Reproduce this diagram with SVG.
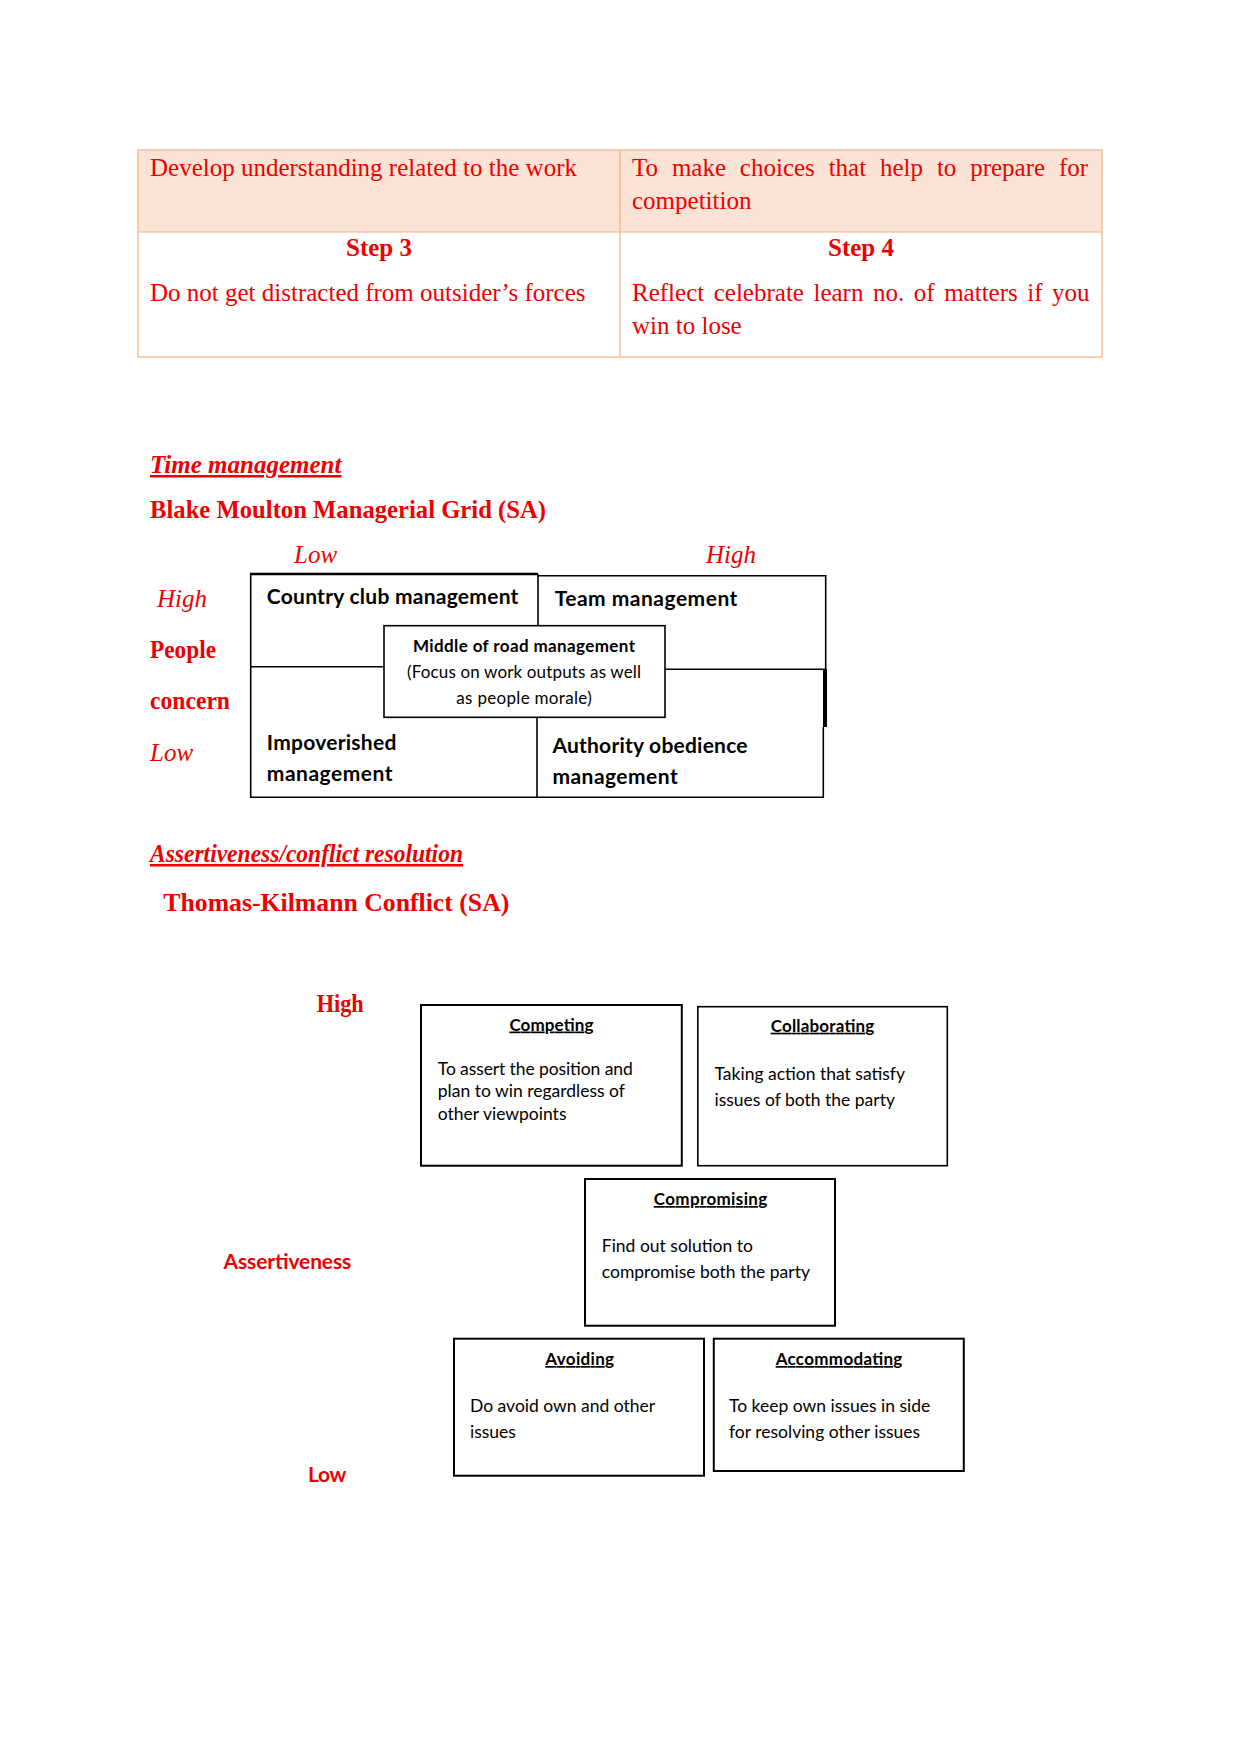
<svg xmlns="http://www.w3.org/2000/svg" width="1241" height="1754" viewBox="0 0 1241 1754">
<style>
.serif{font-family:"Liberation Serif","Times New Roman",serif;fill:#ee0000;font-size:25px}
.b{font-weight:bold}
.i{font-style:italic}
.u{text-decoration:underline}
.sans{font-family:Lato,"Liberation Sans",sans-serif;fill:#000}
.body{font-size:17.5px}
.red{fill:#ee0000}
.box{fill:#fff;stroke:#000;stroke-width:2}
.ln{stroke:#000;stroke-width:1.6;fill:none}
.tb{fill:none;stroke:#f4b183;stroke-width:1.2}
</style>
<rect width="1241" height="1754" fill="#fff"/>
<g id="table">
<rect x="138" y="150" width="964" height="82" fill="#fbe4d5"/>
<rect class="tb" x="138" y="150" width="964" height="207"/>
<line class="tb" x1="138" y1="232" x2="1102" y2="232"/>
<line class="tb" x1="620" y1="150" x2="620" y2="357"/>
<text class="serif" x="150" y="176">Develop understanding related to the work</text>
<text class="serif" x="632" y="176" word-spacing="7.6">To make choices that help to prepare for</text>
<text class="serif" x="632" y="209">competition</text>
<text class="serif b" x="379" y="256" text-anchor="middle">Step 3</text>
<text class="serif b" x="861" y="256" text-anchor="middle">Step 4</text>
<text class="serif" x="150" y="301">Do not get distracted from outsider’s forces</text>
<text class="serif" x="632" y="301" word-spacing="3.3">Reflect celebrate learn no. of matters if you</text>
<text class="serif" x="632" y="334">win to lose</text>
</g>
<text class="serif b i u" x="150" y="473">Time management</text>
<text class="serif b" x="150" y="518" textLength="396" lengthAdjust="spacingAndGlyphs">Blake Moulton Managerial Grid (SA)</text>
<g id="grid-axes">
<text class="serif i" x="294" y="563">Low</text>
<text class="serif i" x="706" y="563">High</text>
<text class="serif i" x="157" y="607">High</text>
<text class="serif b" x="150" y="658" textLength="66" lengthAdjust="spacingAndGlyphs">People</text>
<text class="serif b" x="150" y="709" textLength="80" lengthAdjust="spacingAndGlyphs">concern</text>
<text class="serif i" x="150" y="761">Low</text>
</g>
<g id="grid-lines">
<line class="ln" x1="250.7" y1="573" x2="250.7" y2="798"/>
<line x1="250" y1="574" x2="538" y2="574" stroke="#000" stroke-width="2.4"/>
<line class="ln" x1="538" y1="575.7" x2="826" y2="575.7"/>
<line class="ln" x1="538" y1="574" x2="538" y2="626"/>
<line class="ln" x1="825.7" y1="575" x2="825.7" y2="669"/>
<line class="ln" x1="250.7" y1="666.7" x2="384" y2="666.7"/>
<line class="ln" x1="665" y1="669.3" x2="826" y2="669.3"/>
<line x1="825" y1="669" x2="825" y2="727" stroke="#000" stroke-width="4"/>
<line class="ln" x1="823.3" y1="727" x2="823.3" y2="798"/>
<line class="ln" x1="537" y1="717" x2="537" y2="798"/>
<line class="ln" x1="250" y1="797.3" x2="824" y2="797.3"/>
</g>
<g id="country-club">
<text class="sans b" x="266.8" y="604" font-size="21" textLength="251.6" lengthAdjust="spacing">Country club management</text>
</g>
<g id="team">
<text class="sans b" x="554.7" y="606" font-size="21" textLength="182.7" lengthAdjust="spacing">Team management</text>
</g>
<g id="middle-of-road">
<rect x="384" y="625.7" width="281" height="91.6" fill="#fff" stroke="#000" stroke-width="1.6"/>
<text class="sans b" x="524" y="652" font-size="17" text-anchor="middle" textLength="222" lengthAdjust="spacing">Middle of road management</text>
<text class="sans" x="524" y="678" font-size="17" text-anchor="middle" textLength="234" lengthAdjust="spacing">(Focus on work outputs as well</text>
<text class="sans" x="524" y="704.3" font-size="17" text-anchor="middle" textLength="135.4" lengthAdjust="spacing">as people morale)</text>
</g>
<g id="impoverished">
<text class="sans b" x="266.8" y="750" font-size="21" textLength="129.5" lengthAdjust="spacing">Impoverished</text>
<text class="sans b" x="266.8" y="781" font-size="21" textLength="125.8" lengthAdjust="spacing">management</text>
</g>
<g id="authority">
<text class="sans b" x="552.4" y="753.3" font-size="21" textLength="195.1" lengthAdjust="spacing">Authority obedience</text>
<text class="sans b" x="552.4" y="784" font-size="21" textLength="125.3" lengthAdjust="spacing">management</text>
</g>
<text class="serif b i u" x="150" y="862" textLength="313" lengthAdjust="spacingAndGlyphs">Assertiveness/conflict resolution</text>
<text class="serif b" x="163.3" y="911" textLength="346" lengthAdjust="spacingAndGlyphs">Thomas-Kilmann Conflict (SA)</text>
<g id="tk-axes">
<text class="serif b" x="316.7" y="1012" textLength="47" lengthAdjust="spacingAndGlyphs">High</text>
<text class="sans b red" x="223.5" y="1269" font-size="21" textLength="127.8" lengthAdjust="spacing">Assertiveness</text>
<text class="sans b red" x="308" y="1482" font-size="21" textLength="38.4" lengthAdjust="spacing">Low</text>
</g>
<g id="competing">
<rect class="box" x="421" y="1005" width="260.8" height="160.7"/>
<text class="sans b u" x="551.4" y="1030.5" font-size="17" text-anchor="middle" textLength="84" lengthAdjust="spacing">Competing</text>
<text class="sans body" x="437.8" y="1075" textLength="194.9" lengthAdjust="spacing">To assert the position and</text>
<text class="sans body" x="437.8" y="1097">plan to win regardless of</text>
<text class="sans body" x="437.8" y="1119.5">other viewpoints</text>
</g>
<g id="collaborating">
<rect x="697.8" y="1006.7" width="249.5" height="159" fill="#fff" stroke="#000" stroke-width="1.6"/>
<text class="sans b u" x="822.5" y="1031.7" font-size="17" text-anchor="middle" textLength="103.6" lengthAdjust="spacing">Collaborating</text>
<text class="sans body" x="714.5" y="1080">Taking action that satisfy</text>
<text class="sans body" x="714.5" y="1106">issues of both the party</text>
</g>
<g id="compromising">
<rect class="box" x="585" y="1179" width="250" height="146.7"/>
<text class="sans b u" x="710.5" y="1205" font-size="17" text-anchor="middle" textLength="113.5" lengthAdjust="spacing">Compromising</text>
<text class="sans body" x="601.8" y="1251.7">Find out solution to</text>
<text class="sans body" x="601.8" y="1278.3">compromise both the party</text>
</g>
<g id="avoiding">
<rect class="box" x="454" y="1338.7" width="250" height="137"/>
<text class="sans b u" x="579.7" y="1365" font-size="17" text-anchor="middle" textLength="68.7" lengthAdjust="spacing">Avoiding</text>
<text class="sans body" x="470" y="1411.7">Do avoid own and other</text>
<text class="sans body" x="470" y="1437.7">issues</text>
</g>
<g id="accommodating">
<rect class="box" x="713.8" y="1338.7" width="250" height="132.3"/>
<text class="sans b u" x="839" y="1365" font-size="17" text-anchor="middle" textLength="126.7" lengthAdjust="spacing">Accommodating</text>
<text class="sans body" x="729" y="1411.7">To keep own issues in side</text>
<text class="sans body" x="729" y="1437.7">for resolving other issues</text>
</g>
</svg>
